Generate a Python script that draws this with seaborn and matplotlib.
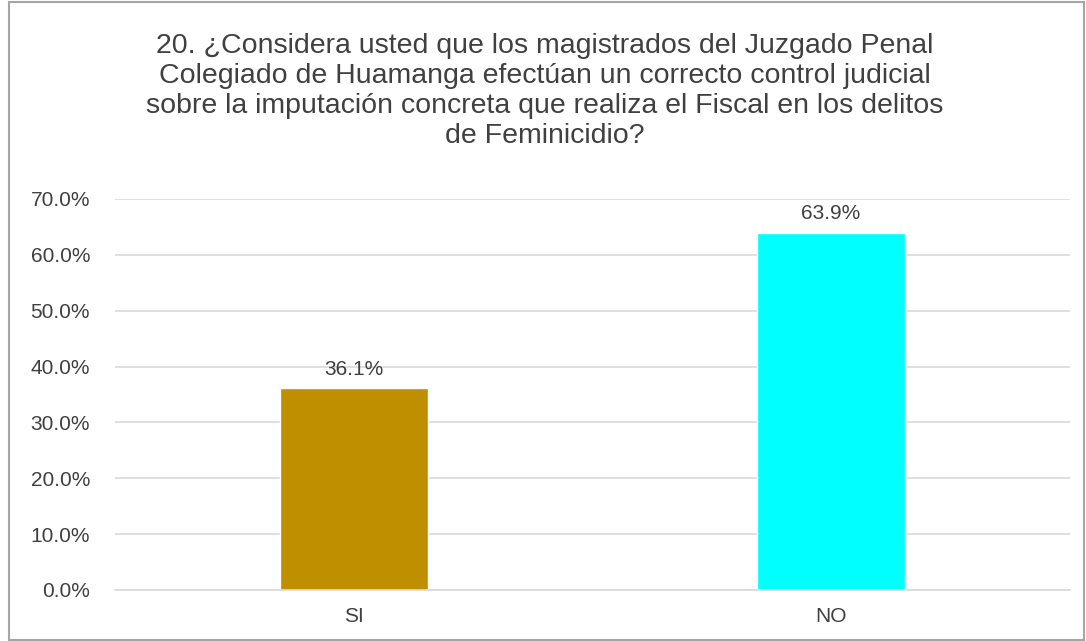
import matplotlib
matplotlib.use('Agg')
import matplotlib.pyplot as plt
import seaborn as sns
import pandas as pd
from matplotlib.patches import Rectangle

# datos
categorias = ['SI', 'NO']
porcentajes = [36.1, 63.9]
colores = ['#BF8F00', '#00FFFF']
titulo = ('20. ¿Considera usted que los magistrados del Juzgado Penal\n'
          'Colegiado de Huamanga efectúan un correcto control judicial\n'
          'sobre la imputación concreta que realiza el Fiscal en los delitos\n'
          'de Feminicidio?')

df = pd.DataFrame({'cat': categorias, 'pct': porcentajes})

sns.set_style('white')
plt.rcParams['font.family'] = ['Liberation Sans', 'DejaVu Sans']

fig = plt.figure(figsize=(10.86, 6.41), dpi=100)
ax = fig.add_axes([0.106, 0.0796, 0.879, 0.61])

sns.barplot(data=df, x='cat', y='pct', hue='cat', palette=colores,
            width=0.31, saturation=1, legend=False, ax=ax)

ax.set_ylim(0, 70)
ax.set_yticks(range(0, 71, 10))
ax.set_yticklabels([f'{v:.1f}%' for v in range(0, 71, 10)], fontsize=15, color='#404040')
ax.tick_params(axis='x', labelsize=15, colors='#404040', length=0, pad=12)
ax.tick_params(axis='y', length=0, pad=18)
ax.yaxis.grid(True, color='#d9d9d9', linewidth=1.2)
ax.set_axisbelow(True)
for s in ['top', 'right', 'left']:
    ax.spines[s].set_visible(False)
ax.spines['bottom'].set_color('#d9d9d9')
ax.spines['bottom'].set_linewidth(1.2)
ax.set_xlabel('')
ax.set_ylabel('')

for p, v in zip(ax.patches, porcentajes):
    ax.annotate(f'{v:.1f}%', (p.get_x() + p.get_width() / 2., p.get_height()),
                ha='center', va='bottom', fontsize=15, color='#404040',
                xytext=(0, 7), textcoords='offset points')

fig.text(0.502, 0.948, titulo, ha='center', va='top', fontsize=20.5,
         color='#404040', linespacing=1.2)

fig.patches.append(Rectangle((0.008, 0.002), 0.99, 0.995, transform=fig.transFigure,
                             fill=False, edgecolor='#a6a6a6', linewidth=1.5))

fig.savefig('out.png', dpi=100)
